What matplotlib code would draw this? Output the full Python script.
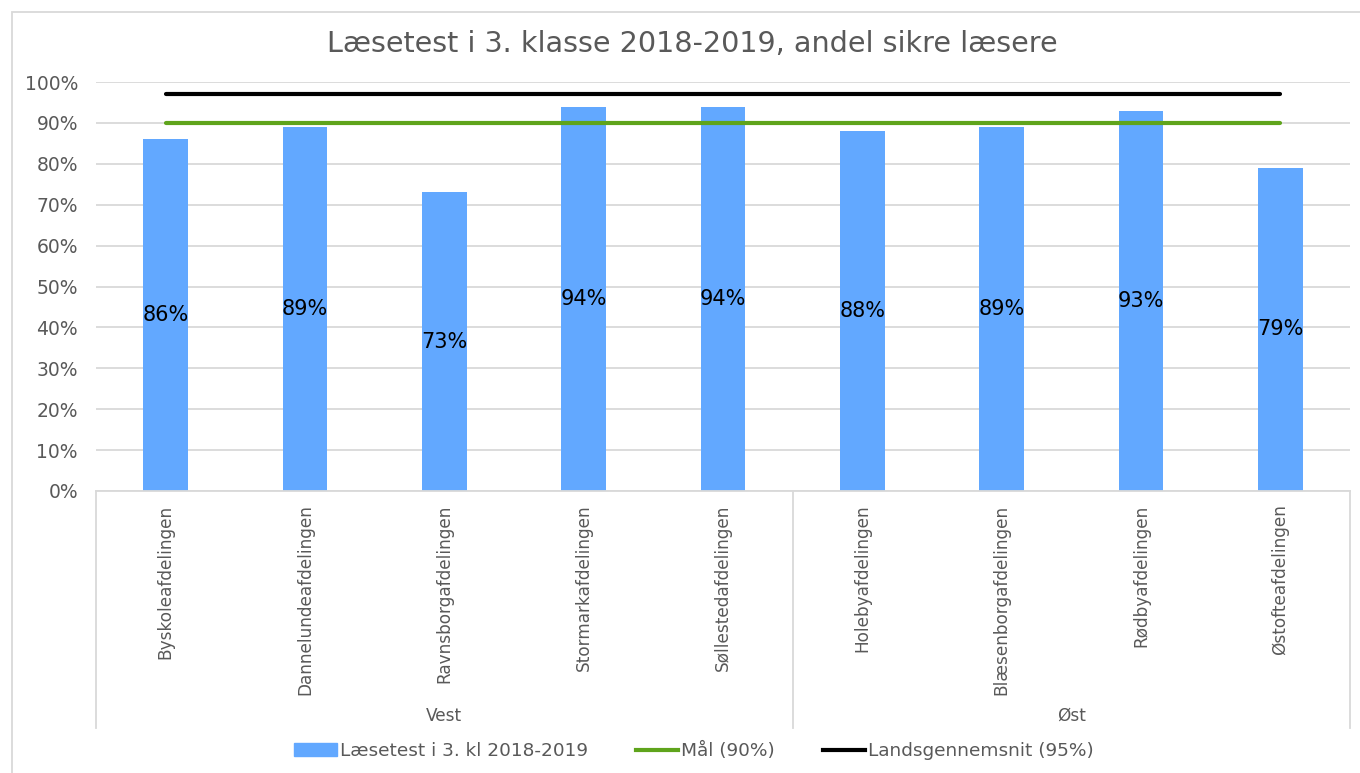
import matplotlib.pyplot as plt
import matplotlib.patches as mpatches
from matplotlib.lines import Line2D
import numpy as np

# data
skoler = ["Byskoleafdelingen", "Dannelundeafdelingen", "Ravnsborgafdelingen",
          "Stormarkafdelingen", "Søllestedafdelingen", "Holebyafdelingen",
          "Blæsenborgafdelingen", "Rødbyafdelingen", "Østofteafdelingen"]
andel = [0.86, 0.89, 0.73, 0.94, 0.94, 0.88, 0.89, 0.93, 0.79]
omraader = ["Vest", "Øst"]
antal_pr_omraade = [5, 4]
maal = [0.90] * len(skoler)
landsgns = [0.97] * len(skoler)

bar_color = '#62A8FF'
grid_color = '#D9D9D9'
txt_color = '#595959'

fig = plt.figure(figsize=(13.6, 7.73), dpi=100)
W, H = 1360, 773
ax = fig.add_axes([96 / W, 1 - 491 / H, (1350 - 96) / W, (491 - 82) / H])

x = np.arange(len(skoler))
ax.bar(x, andel, width=0.32, color=bar_color, zorder=2)
ax.plot(x, maal, color='#5FA41C', linewidth=3, solid_capstyle='round', zorder=3)
ax.plot(x, landsgns, color='black', linewidth=3, solid_capstyle='round', zorder=3)

for xi, v in zip(x, andel):
    ax.text(xi, v / 2, f"{v * 100:.0f}%", ha='center', va='center',
            fontsize=15, color='black', zorder=4)

ax.set_xlim(-0.5, len(skoler) - 0.5)
ax.set_ylim(0, 1)
ax.set_yticks(np.arange(0, 1.01, 0.1))
ax.set_yticklabels([f"{int(round(t * 100))}%" for t in np.arange(0, 1.01, 0.1)])
ax.yaxis.grid(True, color=grid_color, linewidth=1.3, zorder=0)
ax.set_axisbelow(True)
ax.tick_params(axis='y', length=0, labelsize=13.5, labelcolor=txt_color, pad=13)
ax.tick_params(axis='x', length=0, labelbottom=False)
for s in ['left', 'right', 'top']:
    ax.spines[s].set_visible(False)
ax.spines['bottom'].set_color(grid_color)
ax.spines['bottom'].set_linewidth(1.3)

# kategori-labels, roteret
trans = ax.get_xaxis_transform()
for xi, navn in zip(x, skoler):
    ax.text(xi, -0.033, navn, rotation=90, ha='center', va='top',
            fontsize=12.2, color=txt_color, transform=trans)

# gruppe-skillelinjer og gruppe-labels
sep_bottom = -(728 - 491) / (491 - 82)
start = -0.5
for navn, n in zip(omraader, antal_pr_omraade):
    ax.plot([start, start], [0, sep_bottom], color=grid_color, linewidth=1.3,
            transform=trans, clip_on=False)
    ax.text(start + n / 2, -(716 - 491) / (491 - 82), navn, ha='center', va='center',
            fontsize=12.2, color=txt_color, transform=trans)
    start += n
ax.plot([start, start], [0, sep_bottom], color=grid_color, linewidth=1.3,
        transform=trans, clip_on=False)

fig.suptitle("Læsetest i 3. klasse 2018-2019, andel sikre læsere",
             x=692 / W, y=1 - 44 / H, va='center', fontsize=20.6, color=txt_color)

# ramme om diagrammet
fig.patches.append(mpatches.Rectangle((12 / W, -0.01), 1.0, 1 - 12 / H + 0.01,
                                      transform=fig.transFigure, fill=False,
                                      edgecolor=grid_color, linewidth=1.3))

handles = [mpatches.Patch(color=bar_color, label="Læsetest i 3. kl 2018-2019"),
           Line2D([], [], color='#5FA41C', linewidth=3, label="Mål (90%)"),
           Line2D([], [], color='black', linewidth=3, label="Landsgennemsnit (95%)")]
fig.legend(handles=handles, loc='center', bbox_to_anchor=(694 / W, 1 - 751 / H),
           ncol=3, frameon=False, fontsize=13.3, labelcolor=txt_color,
           handlelength=2.3, handletextpad=0.15, columnspacing=2.6)

fig.savefig("out.png", dpi=100)
